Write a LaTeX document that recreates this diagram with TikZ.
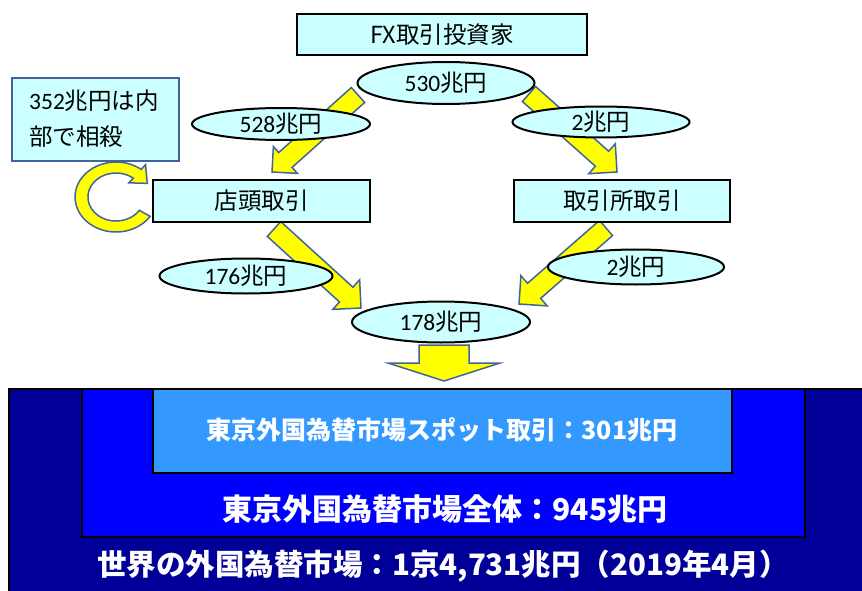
\documentclass[tikz,border=0pt]{standalone}
\usepackage{fontspec}
\setmainfont{Noto Sans CJK JP}
\newfontfamily\latn{Carlito}
\usetikzlibrary{shapes.geometric,calc}
\definecolor{lcyan}{HTML}{CCFFFF}
\definecolor{ayellow}{HTML}{FFFF00}
\definecolor{aedge}{HTML}{41649E}
\definecolor{navyb}{HTML}{000099}
\definecolor{midb}{HTML}{0000FF}
\definecolor{litb}{HTML}{3399FF}
\newcommand\dg[1]{{\latn #1}}
% #1 tail, #2 tip, #3 half shaft, #4 half head, #5 head length
\newcommand\yblockarrow[5]{%
  \coordinate (ba) at ($(#2)!#5!(#1)$);
  \draw[yarrow] ($(#1)!#3!90:(#2)$) -- ($(ba)!#3!-90:(#1)$) -- ($(ba)!#4!-90:(#1)$)
     -- (#2) -- ($(ba)!#4!90:(#1)$) -- ($(ba)!#3!90:(#1)$) -- ($(#1)!#3!-90:(#2)$) -- cycle;}
\tikzset{
  yarrow/.style={fill=ayellow, draw=aedge, line width=1.5pt, line join=miter},
  flowbox/.style={draw=black, fill=lcyan, line width=2.5pt, rectangle, inner sep=0pt,
     font=\fontsize{23.5}{28}\selectfont},
  amount/.style={draw=black, fill=lcyan, line width=2pt, ellipse, inner sep=0pt,
     font=\fontsize{23.5}{28}\selectfont},
  bigtext/.style={text=white, font=\bfseries\fontsize{30}{34}\selectfont},
}
\begin{document}
\begin{tikzpicture}[x=1pt,y=-1pt]
\useasboundingbox (0,0) rectangle (862,591);
\fill[white] (0,0) rectangle (862,591);

% arrow end points
\coordinate (a1t) at (358,95);  \coordinate (a1h) at (272,172);
\coordinate (a2t) at (529,94);  \coordinate (a2h) at (617,172);
\coordinate (a3t) at (274,229); \coordinate (a3h) at (361,308);
\coordinate (a4t) at (606,228); \coordinate (a4h) at (519,304);
\coordinate (a5t) at (444,345); \coordinate (a5h) at (444,381);
\yblockarrow{a1t}{a1h}{10pt}{18pt}{18pt}
\yblockarrow{a2t}{a2h}{10pt}{20pt}{20pt}
\yblockarrow{a3t}{a3h}{10pt}{20pt}{20pt}
\yblockarrow{a4t}{a4h}{10pt}{20pt}{20pt}
\yblockarrow{a5t}{a5h}{25pt}{56pt}{18pt}

% circular arrow
\begin{scope}[shift={(116,197)}, xscale=1.17]
\draw[yarrow] (33.6:35) arc[start angle=33.6,end angle=308,radius=35]
  -- (308:41) -- (333:30) -- (308:18) -- (308:24)
  arc[start angle=308,end angle=33.6,radius=24] -- cycle;
\end{scope}

% boxes
\node[flowbox, minimum width=290pt, minimum height=41pt] (fx) at (442,34.5) {FX取引投資家};
\node[flowbox, minimum width=217pt, minimum height=42pt] (otc) at (261.5,201) {店頭取引};
\node[flowbox, minimum width=216pt, minimum height=42pt] (exch) at (622,201) {取引所取引};
\node[draw=aedge, fill=lcyan, line width=2pt, minimum width=167pt, minimum height=83pt,
  anchor=north west, inner sep=0pt] (net) at (11,77) {};
\node[anchor=west, align=left, inner sep=0pt, font=\fontsize{23.5}{36}\selectfont] (nettext) at (29,119)
  {\dg{352}兆円は内\\部で相殺};

% amounts
\node[amount, minimum width=177pt, minimum height=42pt] (e530) at (446,83) {\dg{530}兆円};
\node[amount, minimum width=178pt, minimum height=32pt] (e528) at (281,124) {\dg{528}兆円};
\node[amount, minimum width=177pt, minimum height=31pt] (e2a) at (601,122) {\dg{2}兆円};
\node[amount, minimum width=173pt, minimum height=35pt] (e176) at (246,276) {\dg{176}兆円};
\node[amount, minimum width=176pt, minimum height=35pt] (e2b) at (636,267) {\dg{2}兆円};
\node[amount, minimum width=178pt, minimum height=41pt] (e178) at (441,322) {\dg{178}兆円};

% market blocks
\draw[fill=navyb, draw=black, line width=2pt] (9,389) rectangle (870,600);
\draw[fill=midb, draw=black, line width=2pt] (82,389) rectangle (805,537);
\draw[fill=litb, draw=black, line width=2pt] (153,389) rectangle (732,473);
\node[text=white, font=\bfseries\fontsize{25}{30}\selectfont] (spot) at (442,430)
  {東京外国為替市場スポット取引：301兆円};
\node[bigtext] (tokyo) at (445,509) {東京外国為替市場全体：945兆円};
\node[text=white, font=\bfseries\fontsize{29.5}{34}\selectfont] (world) at (443,566)
  {世界の外国為替市場：1京4,731兆円（2019年4月）};
\end{tikzpicture}
\end{document}
